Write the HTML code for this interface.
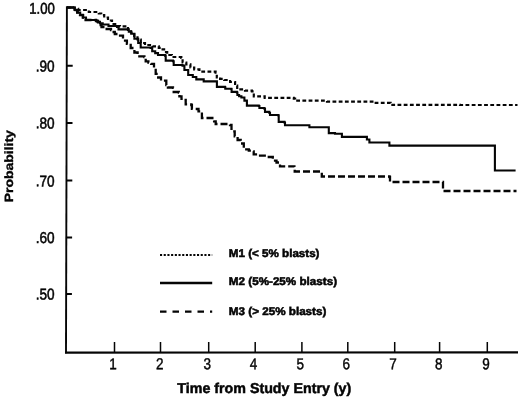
<!DOCTYPE html>
<html><head><meta charset="utf-8">
<style>
html,body{margin:0;padding:0;background:#fff;}
body{width:520px;height:399px;overflow:hidden;position:relative;}
svg{position:absolute;left:0;top:0;display:block;}
text{font-family:"Liberation Sans",sans-serif;fill:#050505;text-rendering:geometricPrecision;}
.yl{font-size:15.7px;text-anchor:end;stroke:#050505;stroke-width:.55px;}
.xl{font-size:15.8px;text-anchor:middle;stroke:#050505;stroke-width:.45px;}
.lg{font-size:11.2px;font-weight:bold;stroke:#050505;stroke-width:.55px;}
.ti{font-size:14.2px;font-weight:bold;stroke:#050505;stroke-width:.5px;}
.pr{font-size:12px;font-weight:bold;stroke:#050505;stroke-width:.35px;}
</style></head><body>
<svg width="520" height="399" viewBox="0 0 520 399">
<rect width="520" height="399" fill="#fff"/>
<g stroke="#050505" stroke-width="2" fill="none">
<path stroke-width="1.9" d="M66.9 6.3 L66 353.2"/>
<path stroke-width="2.2" d="M65 352.65 L518 352.3"/>

<path d="M66.5 65.7H72.7 M66.5 123.0H72.5 M66.5 180.6H72.3 M66.5 237.4H72.1 M66.5 294.0H71.9"/>
<path stroke-width="1.5" d="M114.5 342.1V352 M160.5 342.1V352 M208.7 342.1V352 M255.2 342.1V352 M301.9 342.1V352 M347.8 342.1V352 M394.7 342.1V352 M439.6 342.1V352 M487.3 342.1V352"/>
</g>
<g fill="none" stroke="#050505" stroke-linejoin="miter">
<path stroke-width="2.2" stroke-dasharray="3.8 2.4" d="M67.0 7.5 H73.0 V7.5 H74.8 V8.8 H76.5 H78.2 V10.0 H80.0 H88.8 V12.0 H97.5 H98.8 V13.5 H100.0 H101.2 V15.0 H102.5 H104.2 V17.5 H106.0 H108.0 V20.5 H110.0 H112.0 V24.0 H114.0 H116.5 V26.0 H119.0 H120.0 V26.3 H126.5 V27.0 H128.0 V29.8 H129.5 H131.0 V32.5 H132.5 H134.2 V36.0 H135.8 H137.5 V39.5 H139.2 H140.8 V43.0 H142.5 H145.0 V45.0 H147.5 H152.5 V46.3 H157.5 H158.8 V47.8 H160.0 H161.2 V49.4 H162.5 H164.1 V52.2 H165.7 H167.2 V55.0 H168.8 H171.9 V57.0 H175.0 H181.3 V58.0 H182.6 V62.5 H183.8 H186.3 V64.4 H188.8 H190.4 V67.5 H192.0 H194.2 V69.4 H196.3 H199.4 V71.6 H202.5 H215.6 V72.6 H216.8 V77.5 H218.0 H220.1 V78.8 H222.2 H224.2 V80.0 H226.3 H230.1 V82.0 H233.8 H235.1 V85.6 H236.3 H237.2 V89.4 H238.0 H245.0 V90.6 H251.9 V91.3 H253.8 V96.3 H255.6 H264.7 V97.8 H273.8 H293.8 V98.6 H295.1 V100.7 H296.3 H327.0 V101.0 V101.6 H373.8 V101.6 V102.9 H390.6 V102.9 V104.8 H460.0 V105.0 H517.5 V105.0"/>
<path stroke-width="2.1" d="M67.0 7.5 H73.0 V7.5 H74.5 V10.0 H75.9 H77.3 V12.5 H78.8 H80.2 V15.0 H81.7 H83.2 V17.5 H84.6 H86.0 V20.0 H87.5 H96.0 V20.5 H97.3 V21.8 H98.7 H100.0 V23.2 H101.3 H102.7 V24.5 H104.0 H108.5 V26.0 H113.0 H117.0 V27.0 H118.5 V29.4 H120.0 H127.5 V29.4 H128.8 V31.6 H130.0 H131.2 V33.8 H132.5 H134.4 V38.8 H136.3 H138.2 V43.0 H140.0 H140.7 V47.5 H141.3 H150.6 V48.0 H152.2 V51.3 H153.8 H155.2 V53.1 H156.6 H158.0 V55.0 H159.4 H165.0 V55.6 H165.7 V60.6 H166.3 H173.0 V61.3 H173.7 V65.0 H174.4 H182.5 V65.6 H184.4 V70.0 H186.3 H188.2 V75.0 H190.0 H192.8 V77.0 H195.6 H196.3 V79.4 H197.0 H203.0 V79.4 H203.7 V81.4 H204.4 H216.9 V81.4 V86.9 H225.0 V87.3 H225.3 V88.8 H225.6 H231.3 V89.0 H231.6 V91.9 H231.9 H236.9 V92.5 H237.4 V95.0 H238.0 H239.1 V96.2 H240.2 H241.4 V97.5 H242.5 H244.4 V100.6 H246.3 H246.9 V105.6 H247.5 H258.8 V106.0 H259.4 V108.0 H260.0 H264.4 V108.8 H265.0 V111.9 H265.6 H269.4 V113.0 H270.0 V115.0 H270.6 H278.0 V115.3 H278.7 V121.9 H279.4 H284.4 V122.5 H285.0 V125.3 H285.6 H308.8 V125.3 H309.4 V127.3 H310.0 H327.5 V127.3 H328.8 V133.1 H330.0 H335.0 V133.8 H341.9 V133.8 V136.9 H366.9 V136.9 V139.5 H369.4 V139.7 V142.5 H389.4 V142.5 V145.6 H494.9 V146.0 V170.5 H515.6 V170.5"/>
<path stroke-width="2.3" stroke-dasharray="7 3" d="M67.0 7.5 H73.0 V7.5 H74.4 V10.0 H75.8 H77.2 V12.5 H78.6 H80.0 V15.0 H81.4 H82.8 V17.5 H84.2 H85.6 V20.0 H87.0 H96.0 V21.0 H98.0 V25.0 H100.0 H101.5 V27.0 H103.0 H104.5 V29.0 H106.0 H111.0 V30.0 H112.2 V32.0 H113.5 H114.8 V34.0 H116.0 H118.5 V35.6 H121.0 H123.0 V40.6 H125.0 H126.9 V43.8 H128.8 H130.7 V48.0 H132.5 H134.4 V52.5 H136.3 H137.6 V56.3 H138.8 H144.4 V57.0 H145.7 V61.3 H147.0 H148.4 V62.5 H149.8 H151.1 V63.8 H152.5 H153.0 V63.8 H154.0 V68.8 H155.0 H155.7 V73.8 H156.3 H158.2 V77.5 H160.0 H161.0 V80.6 H162.0 H165.6 V80.6 H166.3 V85.0 H167.0 H167.9 V87.5 H168.8 H173.0 V87.8 H173.7 V92.0 H174.4 H178.8 V92.5 H179.4 V96.3 H180.0 H181.5 V98.8 H183.0 H184.0 V100.0 H185.0 H185.7 V104.4 H186.3 H191.3 V105.0 H191.9 V108.8 H192.5 H197.0 V109.0 H198.5 V111.3 H200.0 H201.9 V118.0 H203.8 H213.8 V118.7 H214.1 V121.3 H214.4 H215.7 V124.0 H217.0 H227.0 V124.0 H230.0 V125.0 H231.5 V131.3 H233.0 H234.7 V136.3 H236.3 H237.6 V140.0 H238.8 H240.7 V143.5 H242.5 H243.8 V149.4 H245.0 H248.8 V150.6 H253.0 V151.3 H253.7 V154.4 H254.4 H258.0 V155.6 H267.0 V155.6 H268.8 V157.0 H270.6 H272.8 V160.6 H275.0 H276.5 V162.5 H278.0 H280.0 V166.3 H282.0 H294.4 V167.2 H294.7 V171.5 H295.0 H321.0 V171.5 H321.8 V176.5 H322.5 H389.5 V177.0 H390.0 V182.0 H390.5 H443.0 V182.0 V191.0 H516.5 V191.0"/>
</g>
<g stroke="#050505" fill="none">
<path stroke-width="2" stroke-dasharray="2.1 1.6" d="M160 255.100H212.200"/>
<path stroke-width="2.3" d="M160 283H212.200"/>
<path stroke-width="2.3" stroke-dasharray="6.5 6" d="M160 311.700H212.200"/>
</g>
<text class="yl" transform="rotate(0.05 54.8 13.7)" x="54.8" y="13.7" textLength="25.6" lengthAdjust="spacingAndGlyphs">1.00</text>
<text class="yl" transform="rotate(0.05 54.6 71.5)" x="54.6" y="71.5" textLength="18.9" lengthAdjust="spacingAndGlyphs">.90</text>
<text class="yl" transform="rotate(0.05 54.6 128.4)" x="54.6" y="128.4" textLength="18.9" lengthAdjust="spacingAndGlyphs">.80</text>
<text class="yl" transform="rotate(0.05 54.6 186.4)" x="54.6" y="186.4" textLength="18.9" lengthAdjust="spacingAndGlyphs">.70</text>
<text class="yl" transform="rotate(0.05 54.6 243.1)" x="54.6" y="243.1" textLength="18.9" lengthAdjust="spacingAndGlyphs">.60</text>
<text class="yl" transform="rotate(0.05 54.6 299.5)" x="54.6" y="299.5" textLength="18.9" lengthAdjust="spacingAndGlyphs">.50</text>
<text class="xl" transform="rotate(0.05 112.9 369.7)" x="112.9" y="369.200" textLength="7.500" lengthAdjust="spacingAndGlyphs">1</text>
<text class="xl" transform="rotate(0.05 159.7 369.7)" x="159.7" y="369.200" textLength="7.500" lengthAdjust="spacingAndGlyphs">2</text>
<text class="xl" transform="rotate(0.05 207.2 369.7)" x="207.2" y="369.200" textLength="7.500" lengthAdjust="spacingAndGlyphs">3</text>
<text class="xl" transform="rotate(0.05 253.6 369.7)" x="253.6" y="369.200" textLength="7.500" lengthAdjust="spacingAndGlyphs">4</text>
<text class="xl" transform="rotate(0.05 300.2 369.7)" x="300.2" y="369.200" textLength="7.500" lengthAdjust="spacingAndGlyphs">5</text>
<text class="xl" transform="rotate(0.05 346.2 369.7)" x="346.2" y="369.200" textLength="7.500" lengthAdjust="spacingAndGlyphs">6</text>
<text class="xl" transform="rotate(0.05 392.9 369.7)" x="392.9" y="369.200" textLength="7.500" lengthAdjust="spacingAndGlyphs">7</text>
<text class="xl" transform="rotate(0.05 438.7 369.7)" x="438.7" y="369.200" textLength="7.500" lengthAdjust="spacingAndGlyphs">8</text>
<text class="xl" transform="rotate(0.05 485.9 369.7)" x="485.9" y="369.200" textLength="7.500" lengthAdjust="spacingAndGlyphs">9</text>
<text class="lg" x="228.850" y="256.700" textLength="90.650" lengthAdjust="spacingAndGlyphs">M1 (&lt; 5% blasts)</text>
<text class="lg" x="228.850" y="285.300" textLength="108.200" lengthAdjust="spacingAndGlyphs">M2 (5%-25% blasts)</text>
<text class="lg" x="228.850" y="314.900" textLength="97.500" lengthAdjust="spacingAndGlyphs">M3 (&gt; 25% blasts)</text>
<text class="ti" x="177.300" y="393" textLength="174" lengthAdjust="spacingAndGlyphs">Time from Study Entry (y)</text>
<text class="pr" transform="translate(12.800 202.200) rotate(-90)" textLength="72" lengthAdjust="spacingAndGlyphs">Probability</text>
</svg>
</body></html>
